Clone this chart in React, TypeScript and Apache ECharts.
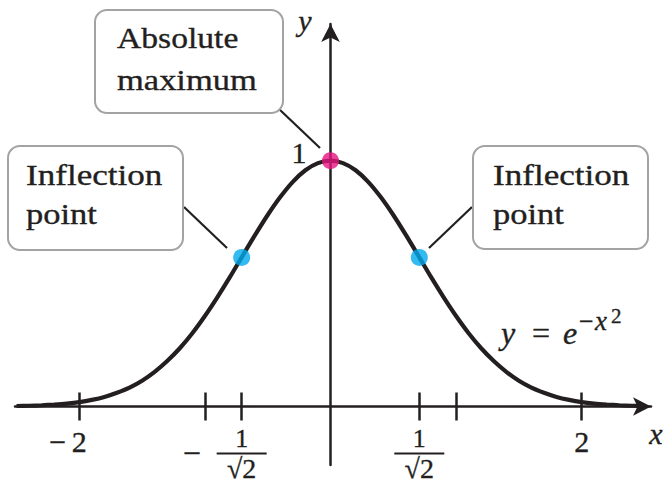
import React, { useEffect, useRef } from "react";
import * as echarts from "echarts";

// Curve y = e^(-x^2)
const curveX = [
  -2.5, -2.4, -2.3, -2.2, -2.1, -2.0, -1.9, -1.8, -1.7, -1.6, -1.5, -1.4, -1.3,
  -1.2, -1.1, -1.0, -0.9, -0.8, -0.7, -0.6, -0.5, -0.4, -0.3, -0.2, -0.1, 0.0,
  0.1, 0.2, 0.3, 0.4, 0.5, 0.6, 0.7, 0.8, 0.9, 1.0, 1.1, 1.2, 1.3, 1.4, 1.5,
  1.6, 1.7, 1.8, 1.9, 2.0, 2.1, 2.2, 2.3, 2.4, 2.5,
];
const curveY = [
  0.002, 0.003, 0.005, 0.008, 0.012, 0.018, 0.027, 0.039, 0.056, 0.077, 0.105,
  0.141, 0.185, 0.237, 0.298, 0.368, 0.445, 0.527, 0.613, 0.698, 0.779, 0.852,
  0.914, 0.961, 0.99, 1.0, 0.99, 0.961, 0.914, 0.852, 0.779, 0.698, 0.613,
  0.527, 0.445, 0.368, 0.298, 0.237, 0.185, 0.141, 0.105, 0.077, 0.056, 0.039,
  0.027, 0.018, 0.012, 0.008, 0.005, 0.003, 0.002,
];
const maxPoint = [[0, 1]];
const inflectionPoints = [
  [-0.7071, 0.6065],
  [0.7071, 0.6065],
];
const xTickValues = [-2, -1, -0.7071, 0.7071, 1, 2];
const xLabelValues = [-2, -0.7071, 0.7071, 2];
const yLabelValues = [1];
const xRange = [-2.512, 2.552];
const yRange = [-0.238, 1.556];

const INK = "#231f20";
const SERIF = "Liberation Serif, Times New Roman, serif";
const PINK = "#e5147f";
const BLUE = "#00a9ec";
const WEIGHT = 0.35; // thin outline to match the heavier print of the reference

// grid geometry
const GRID = { left: 15, top: 24, width: 636, height: 441 };

export default function App() {
  const ref = useRef<HTMLDivElement>(null);

  useEffect(() => {
    if (!ref.current) return;
    const chart = echarts.init(ref.current, null, { renderer: "svg" });

    // where the zero lines fall inside the grid (axes cross at the origin)
    const zeroX =
      ((0 - xRange[0]) / (xRange[1] - xRange[0])) * GRID.width;
    const zeroYFromTop =
      ((yRange[1] - 0) / (yRange[1] - yRange[0])) * GRID.height;
    const zeroYFromBottom = GRID.height - zeroYFromTop;

    const isFrac = (v: number) => Math.abs(Math.abs(v) - 0.7071) < 1e-3;

    const labelFormatter = (v: number) => {
      if (isFrac(v)) {
        const m = v < 0 ? "{fm|−}" : "{fs| }";
        return (
          "{fs| }{fn|1}{fs| }\n" +
          m +
          "{fb| }{fs| }\n" +
          "{fs| }{fd|√2}{fs| }"
        );
      }
      const m = v < 0 ? "{im|−}" : "{im| }";
      return m + "{iv|" + Math.abs(v) + "}{im| }";
    };

    const tickStyle = { color: INK, width: 2.5 };

    const text = (t: string, x: number, y: number, opts: any = {}) => ({
      type: "text",
      x,
      y,
      scaleX: opts.scaleX ?? 1,
      z: 10,
      style: {
        text: t,
        fontFamily: SERIF,
        fontSize: opts.fontSize ?? 30,
        fontStyle: opts.italic ? "italic" : "normal",
        fill: INK,
        stroke: INK,
        lineWidth: WEIGHT,
        align: opts.align ?? "left",
        verticalAlign: "middle",
      },
    });

    const box = (x: number, y: number, w: number, h: number) => ({
      type: "rect",
      z: 9,
      shape: { x, y, width: w, height: h, r: 12 },
      style: { fill: "#ffffff", stroke: "#a3a3a3", lineWidth: 2 },
    });

    const leader = (x1: number, y1: number, x2: number, y2: number) => ({
      type: "line",
      z: 9,
      shape: { x1, y1, x2, y2 },
      style: { stroke: INK, lineWidth: 2.2 },
    });

    const serifLabel = (size: number, lh: number, width: number) => ({
      width,
      fontSize: size,
      lineHeight: lh,
      align: "center",
      fontFamily: SERIF,
      color: INK,
      textBorderColor: INK,
      textBorderWidth: WEIGHT,
    });

    chart.setOption({
      animation: false,
      backgroundColor: "#ffffff",
      grid: {
        ...GRID,
        containLabel: false,
        outerBoundsMode: "none",
      },
      xAxis: [
        {
          type: "value",
          position: "bottom",
          offset: -zeroYFromBottom,
          min: xRange[0],
          max: xRange[1],
          axisLine: {
            show: true,
            onZero: false,
            symbol: ["none", "arrow"],
            symbolSize: [14, 18],
            lineStyle: { color: INK, width: 2.5 },
          },
          axisTick: {
            show: true,
            inside: false,
            length: 14,
            customValues: xTickValues,
            lineStyle: tickStyle,
          },
          axisLabel: {
            show: true,
            customValues: xLabelValues,
            margin: 18,
            formatter: labelFormatter,
            fontFamily: SERIF,
            fontSize: 30,
            color: INK,
            rich: {
              fs: { width: 50, fontSize: 10, lineHeight: 2, align: "center" },
              fm: serifLabel(32, 2, 50),
              fn: serifLabel(26, 28, 50),
              fb: {
                width: 50,
                height: 2,
                lineHeight: 2,
                fontSize: 2,
                backgroundColor: INK,
                align: "center",
              },
              fd: serifLabel(28, 28, 50),
              im: serifLabel(30, 34, 27),
              iv: serifLabel(30, 34, 16),
            },
          },
          splitLine: { show: false },
        },
        {
          type: "value",
          position: "top",
          offset: -zeroYFromTop,
          min: xRange[0],
          max: xRange[1],
          axisLine: { show: false, onZero: false },
          axisTick: {
            show: true,
            inside: false,
            length: 14,
            customValues: xTickValues,
            lineStyle: tickStyle,
          },
          axisLabel: { show: false },
          splitLine: { show: false },
        },
      ],
      yAxis: {
        type: "value",
        position: "left",
        offset: -zeroX,
        min: yRange[0],
        max: yRange[1],
        axisLine: {
          show: true,
          onZero: false,
          symbol: ["none", "arrow"],
          symbolSize: [14, 18],
          lineStyle: { color: INK, width: 2.5 },
        },
        axisTick: { show: false },
        axisLabel: {
          show: true,
          customValues: yLabelValues,
          margin: 24,
          fontFamily: SERIF,
          fontSize: 30,
          lineHeight: 16,
          verticalAlign: "bottom",
          color: INK,
          textBorderColor: INK,
          textBorderWidth: WEIGHT,
        },
        splitLine: { show: false },
      },
      series: [
        {
          type: "line",
          data: curveX.map((x, i) => [x, curveY[i]]),
          showSymbol: false,
          smooth: 0.3,
          lineStyle: { color: INK, width: 4.2 },
          z: 3,
        },
        {
          type: "scatter",
          data: inflectionPoints,
          symbolSize: 17,
          itemStyle: { color: BLUE },
          z: 5,
        },
        {
          type: "scatter",
          data: maxPoint,
          symbolSize: 17,
          itemStyle: { color: PINK },
          z: 5,
        },
      ],
      graphic: [
        leader(279, 109, 320, 148),
        leader(184, 207, 227, 248),
        leader(472, 207, 429, 248),
        box(95, 10, 188, 103),
        box(8, 146, 175, 104),
        box(473, 146, 175, 103),
        text("Absolute", 117, 38, { scaleX: 1.12 }),
        text("maximum", 117, 80, { scaleX: 1.15 }),
        text("Inflection", 26, 175, { scaleX: 1.17 }),
        text("point", 26, 214, { scaleX: 1.15 }),
        text("Inflection", 493, 175, { scaleX: 1.17 }),
        text("point", 493, 214, { scaleX: 1.15 }),
        text("y", 501, 333, { italic: true, fontSize: 32 }),
        text("=", 532, 333, { fontSize: 32 }),
        text("e", 563, 333, { italic: true, fontSize: 32 }),
        text("−", 579, 321, { fontSize: 26 }),
        text("x", 595, 321, { fontSize: 27, italic: true }),
        text("2", 611, 316, { fontSize: 21 }),
        text("x", 656, 433, { italic: true, align: "center" }),
        text("y", 305, 20, { italic: true, align: "center" }),
      ],
    });

    return () => chart.dispose();
  }, []);

  return (
    <div
      ref={ref}
      style={{ position: "fixed", left: 0, top: 0, width: 664, height: 485 }}
    />
  );
}
